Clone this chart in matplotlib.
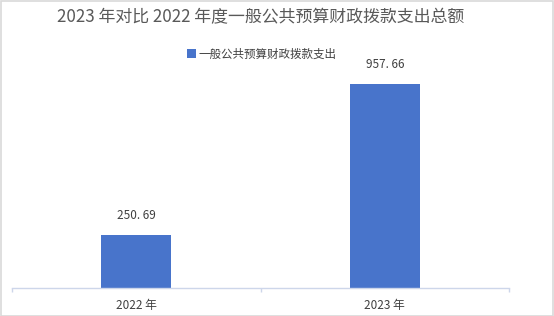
import matplotlib
matplotlib.use("Agg")
import matplotlib.pyplot as plt
from matplotlib.patches import Rectangle

plt.rcParams['font.family'] = ['Noto Sans CJK SC', 'DejaVu Sans']

categories = ["2022 年", "2023 年"]
values = [250.69, 957.66]
value_labels = ["250. 69", "957. 66"]
series_name = "一般公共预算财政拨款支出"
title = "2023 年对比 2022 年度一般公共预算财政拨款支出总额"

W, H = 554, 316
fig = plt.figure(figsize=(W / 100, H / 100), dpi=100)
fig.patch.set_facecolor("white")
fig.add_artist(Rectangle((0.5 / W, 0.5 / H), 1 - 1.5 / W, 1 - 1.5 / H, transform=fig.transFigure,
                         fill=False, edgecolor="#d9d9d9", linewidth=1.2))

left, right, bottom, top = 12, 509, 288, 60
ax = fig.add_axes([left / W, (H - bottom) / H, (right - left) / W, (bottom - top) / H])
bar_color = "#4874cb"
xs = list(range(len(categories)))
bars = ax.bar(xs, values, width=0.28, color=bar_color, label=series_name, zorder=2)
ax.set_xlim(-0.5, len(categories) - 0.5)
ax.set_ylim(0, 1070)

for x, v, lab in zip(xs, values, value_labels):
    ax.annotate(lab, (x, v), xytext=(0, 9), textcoords="offset points", ha="center", va="bottom",
                fontsize=8.5, color="#404040")

for s in ["top", "right", "left"]:
    ax.spines[s].set_visible(False)
ax.spines["bottom"].set_color("#cdd6ea")
ax.spines["bottom"].set_linewidth(1.0)
ax.set_yticks([])
ax.set_xticks(xs)
ax.set_xticklabels(categories, fontsize=8.5, color="#404040")
ax.tick_params(axis="x", which="major", length=0, pad=8)
ax.set_xticks([-0.5, 0.5, 1.5], minor=True)
ax.tick_params(axis="x", which="minor", length=3, color="#cdd6ea", width=1.0)

fig.text(261 / W, 1 - 17 / H, title, ha="center", va="center", fontsize=12.2, color="#595959",
         fontweight="light")
leg = fig.legend(handles=[bars], labels=[series_name], loc="center", bbox_to_anchor=(262 / W, 1 - 54 / H),
                 frameon=False, fontsize=8.3, handlelength=0.8, handleheight=0.8, handletextpad=0.2,
                 labelcolor="#404040")

fig.savefig("out.png", dpi=100, facecolor="white")
